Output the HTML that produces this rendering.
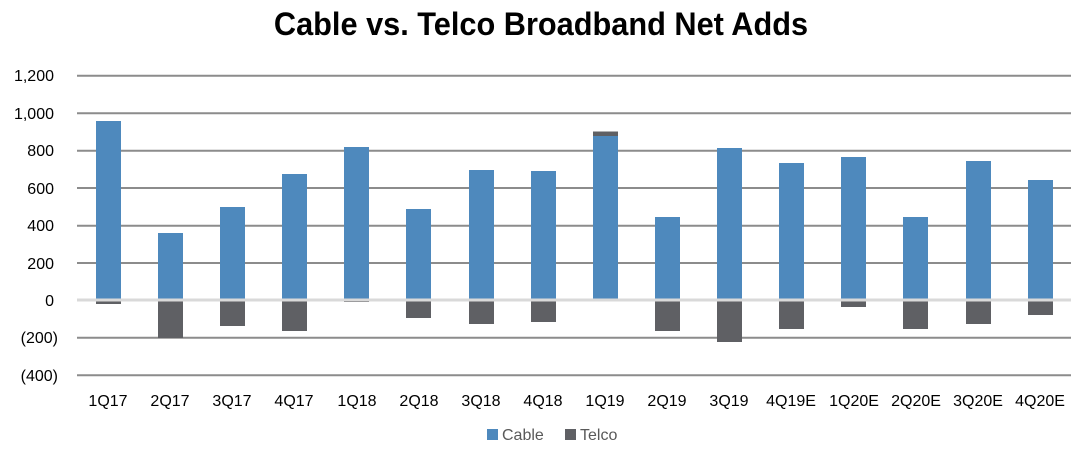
<!DOCTYPE html>
<html><head><meta charset="utf-8"><style>
html,body{margin:0;padding:0;background:#fff;}
svg{display:block;font-family:"Liberation Sans",Arial,sans-serif;}
</style></head><body>
<svg width="1083" height="459" viewBox="0 0 1083 459" xmlns="http://www.w3.org/2000/svg">
<text x="541" y="35" text-anchor="middle" font-size="32" font-weight="bold" fill="#000" transform="translate(541 0) scale(0.96 1) translate(-541 0)">Cable vs. Telco Broadband Net Adds</text>
<g stroke="#8c8c8c" stroke-width="2">
<line x1="77" x2="1071" y1="75.7" y2="75.7"/>
<line x1="77" x2="1071" y1="113.3" y2="113.3"/>
<line x1="77" x2="1071" y1="150.7" y2="150.7"/>
<line x1="77" x2="1071" y1="188" y2="188"/>
<line x1="77" x2="1071" y1="225.7" y2="225.7"/>
<line x1="77" x2="1071" y1="263" y2="263"/>
<line x1="77" x2="1071" y1="337.7" y2="337.7"/>
<line x1="77" x2="1071" y1="375.3" y2="375.3"/>
</g>
<g font-size="16" fill="#000" text-anchor="end">
<text x="54" y="81">1,200</text>
<text x="54" y="119">1,000</text>
<text x="54" y="156">800</text>
<text x="54" y="194">600</text>
<text x="54" y="231">400</text>
<text x="54" y="269">200</text>
<text x="54" y="306">0</text>
<text x="58" y="343">(200)</text>
<text x="58" y="381">(400)</text>
</g>
<g fill="#4e89bd">
<rect x="96" y="121" width="25" height="179"/>
<rect x="158" y="233" width="25" height="67"/>
<rect x="220" y="207" width="25" height="93"/>
<rect x="282" y="174" width="25" height="126"/>
<rect x="344" y="147" width="25" height="153"/>
<rect x="406" y="209" width="25" height="91"/>
<rect x="469" y="170" width="25" height="130"/>
<rect x="531" y="171" width="25" height="129"/>
<rect x="593" y="136" width="25" height="163"/>
<rect x="655" y="217" width="25" height="83"/>
<rect x="717" y="148" width="25" height="152"/>
<rect x="779" y="163" width="25" height="137"/>
<rect x="841" y="157" width="25" height="143"/>
<rect x="903" y="217" width="25" height="83"/>
<rect x="966" y="161" width="25" height="139"/>
<rect x="1028" y="180" width="25" height="120"/>
</g>
<g fill="#5f6064">
<rect x="96" y="300" width="25" height="4"/>
<rect x="158" y="300" width="25" height="38"/>
<rect x="220" y="300" width="25" height="26"/>
<rect x="282" y="300" width="25" height="31"/>
<rect x="344" y="300" width="25" height="2"/>
<rect x="406" y="300" width="25" height="18"/>
<rect x="469" y="300" width="25" height="24"/>
<rect x="531" y="300" width="25" height="22"/>
<rect x="593" y="131.5" width="25" height="4.5"/>
<rect x="655" y="300" width="25" height="31"/>
<rect x="717" y="300" width="25" height="42"/>
<rect x="779" y="300" width="25" height="29"/>
<rect x="841" y="300" width="25" height="7"/>
<rect x="903" y="300" width="25" height="29"/>
<rect x="966" y="300" width="25" height="24"/>
<rect x="1028" y="300" width="25" height="15"/>
</g>
<line x1="77" x2="1071" y1="300" y2="300" stroke="#d9d9d9" stroke-width="3"/>
<g font-size="16" fill="#000" text-anchor="middle">
<text x="108" y="406">1Q17</text>
<text x="170" y="406">2Q17</text>
<text x="232" y="406">3Q17</text>
<text x="294" y="406">4Q17</text>
<text x="357" y="406">1Q18</text>
<text x="419" y="406">2Q18</text>
<text x="481" y="406">3Q18</text>
<text x="543" y="406">4Q18</text>
<text x="605" y="406">1Q19</text>
<text x="667" y="406">2Q19</text>
<text x="729" y="406">3Q19</text>
<text x="791" y="406">4Q19E</text>
<text x="854" y="406">1Q20E</text>
<text x="916" y="406">2Q20E</text>
<text x="978" y="406">3Q20E</text>
<text x="1040" y="406">4Q20E</text>
</g>
<rect x="487" y="429" width="11" height="11" fill="#4e89bd"/>
<text x="502" y="440" font-size="16" fill="#595959">Cable</text>
<rect x="565" y="429" width="11" height="11" fill="#5f6064"/>
<text x="580" y="440" font-size="16" fill="#595959">Telco</text>
</svg>
</body></html>
